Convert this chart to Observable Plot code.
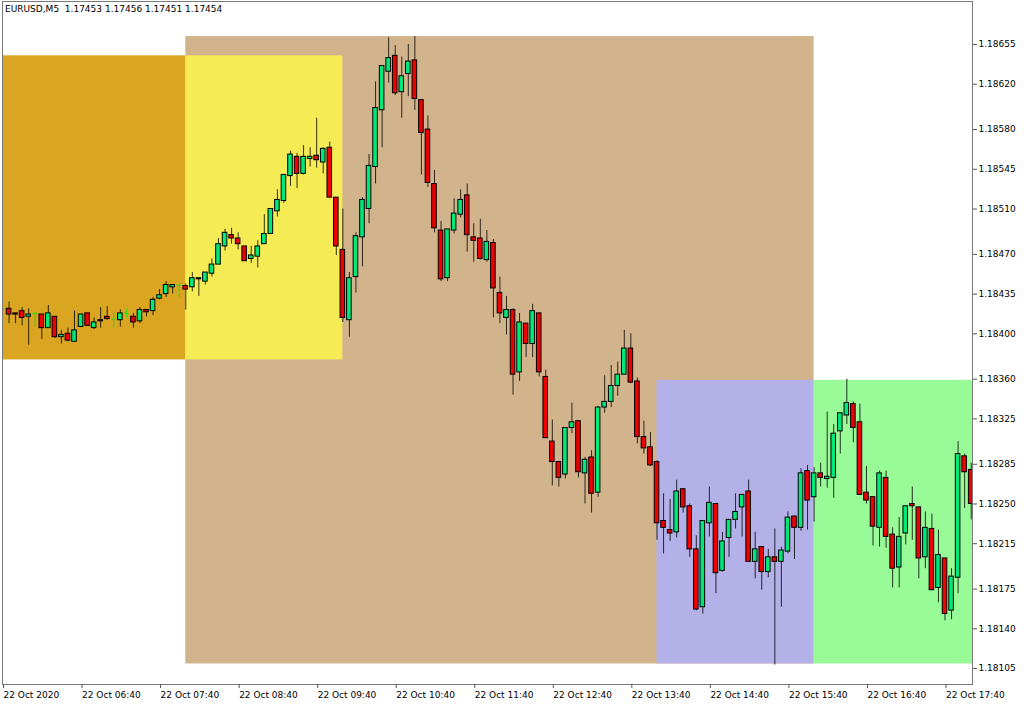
<!DOCTYPE html>
<html><head><meta charset="utf-8">
<script src="https://cdn.jsdelivr.net/npm/d3@7"></script>
<script src="https://cdn.jsdelivr.net/npm/@observablehq/plot@0.6"></script>
<style>
html,body{margin:0;padding:0;background:#fff;}
#wrap{position:relative;width:1024px;height:705px;overflow:hidden;}
#hdr{position:absolute;left:5px;top:4px;font:9px "DejaVu Sans";color:#000;white-space:pre;}
svg{display:block;}
</style></head><body>
<div id="wrap"><div id="hdr"></div></div>
<script>
// ---- data ----
const symbolLabel = "EURUSD,M5  1.17453 1.17456 1.17451 1.17454";
const barStart = "2020-10-22T05:40Z";
const barMinutes = 5;

const open = [1.18422,1.18422,1.18418,1.18420,1.18415,1.18418,1.18417,1.18405,1.18415,1.18397,
1.18400,1.18393,1.18406,1.18418,1.18405,1.18412,1.18415,1.18413,1.18412,1.18418,
1.18415,1.18411,1.18421,1.18420,1.18431,1.18435,1.18441,1.18443,1.18442,1.18441,
1.18449,1.18446,1.18453,1.18461,1.18477,1.18487,1.18484,1.18477,1.18466,1.18468,
1.18479,1.18488,1.18508,1.18517,1.18539,1.18556,1.18541,1.18554,1.18557,1.18551,
1.18564,1.18520,1.18474,1.18412,1.18450,1.18485,1.18510,1.18547,1.18597,1.18631,
1.18645,1.18613,1.18629,1.18641,1.18606,1.18580,1.18532,1.18491,1.18449,1.18491,
1.18505,1.18522,1.18485,1.18484,1.18465,1.18480,1.18436,1.18414,1.18421,1.18366,
1.18409,1.18391,1.18418,1.18362,1.18305,1.18287,1.18276,1.18317,1.18323,1.18277,
1.18291,1.18260,1.18335,1.18340,1.18354,1.18364,1.18387,1.18358,1.18309,1.18300,
1.18287,1.18235,1.18227,1.18225,1.18263,1.18248,1.18210,1.18159,1.18233,1.18250,
1.18191,1.18220,1.18236,1.18247,1.18261,1.18199,1.18212,1.18190,1.18203,1.18199,
1.18208,1.18239,1.18229,1.18279,1.18256,1.18277,1.18272,1.18273,1.18314,1.18328,
1.18338,1.18322,1.18260,1.18256,1.18229,1.18273,1.18223,1.18194,1.18224,1.18250,
1.18247,1.18203,1.18228,1.18176,1.18202,1.18156,1.18185,1.18292,1.18280];
const high = [1.18438,1.18428,1.18418,1.18423,1.18422,1.18419,1.18417,1.18425,1.18415,1.18403,
1.18405,1.18420,1.18417,1.18418,1.18414,1.18423,1.18424,1.18418,1.18421,1.18422,
1.18418,1.18423,1.18421,1.18432,1.18439,1.18446,1.18443,1.18444,1.18444,1.18454,
1.18449,1.18454,1.18466,1.18484,1.18492,1.18493,1.18489,1.18477,1.18477,1.18482,
1.18505,1.18510,1.18527,1.18540,1.18561,1.18559,1.18566,1.18564,1.18590,1.18564,
1.18569,1.18520,1.18510,1.18454,1.18489,1.18520,1.18558,1.18622,1.18636,1.18661,
1.18654,1.18644,1.18655,1.18662,1.18606,1.18592,1.18544,1.18499,1.18492,1.18519,
1.18527,1.18532,1.18497,1.18501,1.18491,1.18483,1.18450,1.18433,1.18422,1.18418,
1.18409,1.18426,1.18418,1.18368,1.18324,1.18287,1.18317,1.18339,1.18323,1.18291,
1.18297,1.18336,1.18363,1.18372,1.18375,1.18403,1.18400,1.18361,1.18323,1.18313,
1.18288,1.18259,1.18254,1.18271,1.18263,1.18250,1.18222,1.18235,1.18265,1.18250,
1.18225,1.18236,1.18259,1.18258,1.18271,1.18225,1.18212,1.18210,1.18228,1.18212,
1.18243,1.18239,1.18281,1.18284,1.18282,1.18286,1.18331,1.18320,1.18330,1.18360,
1.18340,1.18338,1.18283,1.18256,1.18279,1.18279,1.18229,1.18238,1.18248,1.18265,
1.18247,1.18243,1.18241,1.18227,1.18202,1.18193,1.18305,1.18294,1.18286];
const low = [1.18412,1.18409,1.18409,1.18407,1.18390,1.18406,1.18395,1.18405,1.18396,1.18391,
1.18393,1.18393,1.18406,1.18407,1.18404,1.18405,1.18412,1.18405,1.18406,1.18414,
1.18405,1.18409,1.18415,1.18416,1.18430,1.18432,1.18435,1.18432,1.18421,1.18437,
1.18433,1.18443,1.18450,1.18461,1.18473,1.18479,1.18474,1.18464,1.18462,1.18458,
1.18479,1.18488,1.18503,1.18515,1.18530,1.18528,1.18540,1.18547,1.18546,1.18541,
1.18520,1.18469,1.18410,1.18397,1.18436,1.18459,1.18497,1.18532,1.18564,1.18621,
1.18610,1.18590,1.18609,1.18597,1.18540,1.18529,1.18489,1.18446,1.18446,1.18488,
1.18502,1.18472,1.18463,1.18465,1.18463,1.18414,1.18409,1.18399,1.18346,1.18358,
1.18379,1.18379,1.18362,1.18308,1.18266,1.18265,1.18272,1.18312,1.18273,1.18250,
1.18242,1.18256,1.18330,1.18335,1.18345,1.18364,1.18356,1.18303,1.18294,1.18283,
1.18218,1.18206,1.18217,1.18220,1.18242,1.18203,1.18156,1.18153,1.18221,1.18171,
1.18190,1.18203,1.18228,1.18221,1.18199,1.18184,1.18174,1.18185,1.18108,1.18159,
1.18206,1.18201,1.18226,1.18227,1.18234,1.18265,1.18264,1.18255,1.18294,1.18320,
1.18304,1.18258,1.18250,1.18213,1.18212,1.18211,1.18176,1.18176,1.18214,1.18218,
1.18184,1.18193,1.18174,1.18163,1.18147,1.18148,1.18171,1.18246,1.18236];
const close = [1.18422,1.18417,1.18417,1.18414,1.18417,1.18418,1.18405,1.18418,1.18397,1.18399,
1.18394,1.18403,1.18417,1.18407,1.18410,1.18411,1.18413,1.18413,1.18418,1.18418,
1.18410,1.18421,1.18419,1.18430,1.18434,1.18443,1.18443,1.18443,1.18439,1.18449,
1.18448,1.18454,1.18461,1.18479,1.18489,1.18484,1.18479,1.18464,1.18469,1.18477,
1.18488,1.18510,1.18518,1.18540,1.18558,1.18541,1.18556,1.18556,1.18553,1.18563,
1.18520,1.18477,1.18414,1.18449,1.18486,1.18518,1.18548,1.18599,1.18636,1.18643,
1.18612,1.18627,1.18640,1.18607,1.18577,1.18533,1.18493,1.18448,1.18492,1.18506,
1.18518,1.18487,1.18482,1.18466,1.18481,1.18440,1.18418,1.18421,1.18364,1.18410,
1.18391,1.18420,1.18366,1.18308,1.18287,1.18273,1.18317,1.18322,1.18278,1.18289,
1.18259,1.18335,1.18340,1.18354,1.18364,1.18387,1.18357,1.18309,1.18299,1.18284,
1.18233,1.18229,1.18224,1.18261,1.18247,1.18210,1.18157,1.18235,1.18251,1.18189,
1.18217,1.18236,1.18243,1.18258,1.18199,1.18210,1.18190,1.18203,1.18199,1.18209,
1.18238,1.18229,1.18277,1.18253,1.18277,1.18273,1.18274,1.18312,1.18330,1.18339,
1.18317,1.18258,1.18253,1.18230,1.18277,1.18221,1.18193,1.18221,1.18248,1.18248,
1.18202,1.18229,1.18174,1.18205,1.18153,1.18186,1.18294,1.18278,1.18250];

const priceTicks = [1.18655,1.18620,1.18580,1.18545,1.18510,1.18470,1.18435,1.18400,
1.18360,1.18325,1.18285,1.18250,1.18215,1.18175,1.18140,1.18105];
const timeTicks = ["2020-10-22T05:40Z","2020-10-22T06:40Z","2020-10-22T07:40Z","2020-10-22T08:40Z",
"2020-10-22T09:40Z","2020-10-22T10:40Z","2020-10-22T11:40Z","2020-10-22T12:40Z","2020-10-22T13:40Z",
"2020-10-22T14:40Z","2020-10-22T15:40Z","2020-10-22T16:40Z","2020-10-22T17:40Z"];
const firstTickLabel = "22 Oct 2020";

// session boxes (time span and price span)
const zoneNames = ["london", "asia", "range", "ny", "late"];
const zoneStart = ["2020-10-22T08:00Z","2020-10-22T00:00Z","2020-10-22T08:00Z","2020-10-22T14:00Z","2020-10-22T16:00Z"];
const zoneEnd   = ["2020-10-22T16:00Z","2020-10-22T08:00Z","2020-10-22T10:00Z","2020-10-22T16:00Z","2020-10-22T20:00Z"];
const zoneLow   = [1.18109, 1.18377, 1.18377, 1.18109, 1.18109];
const zoneHigh  = [1.18662, 1.18645, 1.18645, 1.18359, 1.18359];

// ---- styles ----
const zoneColors = ["#D2B48C", "#DAA520", "#F5EC55", "#B4B0E8", "#98FB98"];
const bullColor = "#00E87A", bearColor = "#EE0000", dojiColor = "#22DD22";

// ---- build ----
document.getElementById("hdr").textContent = symbolLabel;
const t0 = new Date(barStart);
const step = barMinutes * 60000;
const bars = open.map((o, i) => ({t: new Date(+t0 + i * step), o, h: high[i], l: low[i], c: close[i]}));
const halfBody = 0.35 * step;
const zones = zoneNames.map((n, i) => ({name: n, start: new Date(zoneStart[i]), end: new Date(zoneEnd[i]),
  low: zoneLow[i], high: zoneHigh[i], color: zoneColors[i]}));
const xTicks = timeTicks.map(d => new Date(d));
const pad2 = n => String(n).padStart(2, "0");

const chart = Plot.plot({
  width: 1024, height: 705,
  marginLeft: 2, marginRight: 52, marginTop: 1, marginBottom: 21,
  style: {fontFamily: "DejaVu Sans", fontSize: "9px", color: "#000", background: "transparent"},
  x: {type: "utc", domain: [t0, new Date(+t0 + 148.2 * step)]},
  y: {domain: [1.180909, 1.186929]},
  marks: [
    Plot.rect(zones, {x1: "start", x2: "end", y1: "low", y2: "high", fill: "color", clip: true}),
    Plot.ruleX(bars, {x: "t", y1: "l", y2: "h", stroke: d => d.o === d.c ? dojiColor : "#000",
      strokeOpacity: d => d.o === d.c ? 1 : 0.8, strokeWidth: 1, clip: true}),
    Plot.rect(bars.filter(d => d.o !== d.c), {
      x1: d => new Date(+d.t - halfBody), x2: d => new Date(+d.t + halfBody),
      y1: "o", y2: "c", fill: d => d.c > d.o ? bullColor : bearColor,
      stroke: "#000", strokeWidth: 1, clip: true}),
    Plot.ruleY(bars.filter(d => d.o === d.c), {
      y: "o", x1: d => new Date(+d.t - halfBody), x2: d => new Date(+d.t + halfBody),
      stroke: dojiColor, strokeWidth: 1, clip: true}),
    Plot.frame({stroke: "#7a7a7a"}),
    Plot.axisX({ticks: xTicks, tickSize: 4, tickPadding: 3, textAnchor: "start", dx: 1,
      stroke: "#555",
      tickFormat: d => +d === +xTicks[0] ? firstTickLabel : `22 Oct ${pad2(d.getUTCHours())}:${pad2(d.getUTCMinutes())}`}),
    Plot.axisY({anchor: "right", ticks: priceTicks, tickSize: 4, tickPadding: 2, stroke: "#555",
      tickFormat: d => d.toFixed(5)})
  ]
});
document.getElementById("wrap").appendChild(chart);
</script>
</body></html>
